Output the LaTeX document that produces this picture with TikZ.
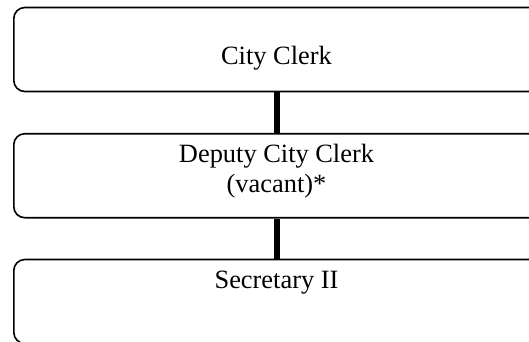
\documentclass[tikz,border=0pt]{standalone}
\usepackage{fontspec}
\setmainfont{Liberation Serif}
\begin{document}
\begin{tikzpicture}[x=1pt,y=-1pt,
  orgbox/.style={draw=black,line width=1.6pt,rounded corners=11pt,minimum width=532pt,minimum height=84pt,inner sep=0pt,anchor=north west},
  orgtext/.style={anchor=base,inner sep=0pt,font=\fontsize{26.4}{30.4}\selectfont},
  link/.style={line width=5.5pt}]
\useasboundingbox (0,0) rectangle (529,341);
\clip (0,0) rectangle (529,341);
\node[orgbox] (b1) at (13,6.7) {};
\node[orgbox] (b2) at (13,132.9) {};
\node[orgbox] (b3) at (13,258.7) {};
\node[orgtext] (t1) at (276.5,64.3) {City Clerk};
\node[orgtext] (t2) at (276.5,162.3) {Deputy City Clerk};
\node[orgtext] (t2b) at (276.5,192.7) {(vacant)*};
\node[orgtext] (t3) at (276.5,288.7) {Secretary II};
\coordinate (cx) at (277,0);
\draw[link] (b1.south -| cx) -- (b2.north -| cx);
\draw[link] (b2.south -| cx) -- (b3.north -| cx);
\end{tikzpicture}
\end{document}
